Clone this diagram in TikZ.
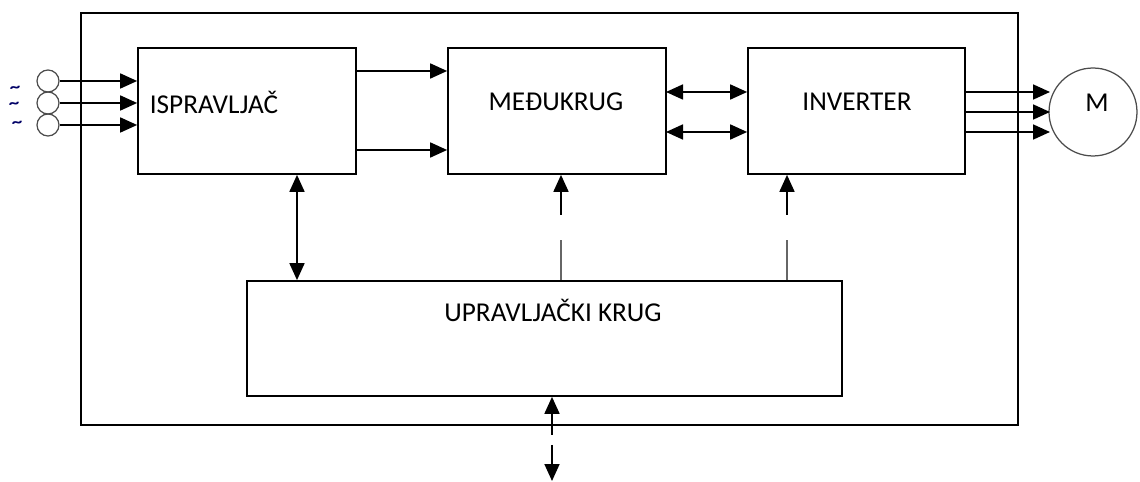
\documentclass[tikz,border=0pt]{standalone}
\usepackage{fontspec}
\setmainfont{Carlito}
\usetikzlibrary{arrows.meta,calc}

\tikzset{
  blok/.style={draw, line width=0.035cm, inner sep=0pt},
  natpis/.style={font=\fontsize{15.5}{18}\selectfont, inner sep=0pt},
  strelica/.style={line width=0.035cm, -{Triangle[length=0.34cm,width=0.3cm]}},
  dvostrelica/.style={line width=0.035cm, {Triangle[length=0.34cm,width=0.3cm]}-{Triangle[length=0.34cm,width=0.3cm]}},
  tanka/.style={line width=0.025cm, gray!80!black},
  ulaz/.style={circle, draw, line width=0.025cm, gray!60!black, minimum size=0.44cm, inner sep=0pt},
  valic/.style={font=\bfseries\fontsize{8}{9}\selectfont, text=blue!40!black, inner sep=0pt, xscale=1.5, yscale=1.2}
}

\begin{document}
\begin{tikzpicture}[x=0.02cm, y=-0.02cm]
  \useasboundingbox (0,0) rectangle (1140,482);

  % Okvir
  \node[blok, minimum width=18.74cm, minimum height=8.24cm] (okvir) at (549.5,219) {};

  % Blokovi
  \node[blok, minimum width=4.36cm, minimum height=2.52cm] (isp) at (247,111) {};
  \node[blok, minimum width=4.36cm, minimum height=2.52cm] (med) at (557,111) {};
  \node[blok, minimum width=4.34cm, minimum height=2.52cm] (inv) at (856.5,111) {};
  \node[blok, minimum width=11.9cm, minimum height=2.3cm] (upr) at (544.5,338.5) {};

  \node[natpis] (ispT) at (214,102) {ISPRAVLJAČ};
  \node[natpis] (medT) at (556,102) {MEĐUKRUG};
  \node[natpis] (invT) at (857,102) {INVERTER};
  \node[natpis] (uprT) at (553,310) {UPRAVLJAČKI KRUG};

  % Motor
  \node[circle, draw, line width=0.025cm, gray!60!black, minimum size=1.76cm, inner sep=0pt] (mot) at (1093,112) {};
  \node[natpis] (motT) at (1097,103) {M};

  % Ulazi
  \foreach \i/\y/\tx/\ty in {1/81/15/89, 2/103/14/105, 3/125/17/124} {
    \node[ulaz] (u\i) at (48,\y) {};
    \node[valic] (t\i) at (\tx,\ty) {\textasciitilde};
    \draw[strelica] (u\i.east) -- (u\i.east -| isp.west);
  }

  % Ispravljac -> medukrug
  \coordinate (a1) at (356,71);
  \coordinate (a2) at (356,150);
  \draw[strelica] (a1) -- (a1 -| med.west);
  \draw[strelica] (a2) -- (a2 -| med.west);

  % Medukrug <-> inverter
  \coordinate (b1) at (666,92);
  \coordinate (b2) at (666,132);
  \draw[dvostrelica] (b1) -- (b1 -| inv.west);
  \draw[dvostrelica] (b2) -- (b2 -| inv.west);

  % Inverter -> motor
  \foreach \i/\y in {1/92, 2/112, 3/132} {
    \coordinate (m\i) at (965,\y);
    \draw[strelica] (m\i) -- (1050,\y);
  }

  % Ispravljac <-> upravljacki krug
  \coordinate (c0) at (297,200);
  \draw[dvostrelica] (c0 |- isp.south) -- (c0 |- upr.north);

  % Upravljanje medukrugom i inverterom
  \foreach \x/\n in {561/med, 787/inv} {
    \coordinate (d1) at (\x,240);
    \coordinate (d2) at (\x,215);
    \draw[tanka] (d1 |- upr.north) -- (d1);
    \draw[strelica] (d2) -- (d2 |- \n.south);
  }

  % Vanjska veza
  \coordinate (e1) at (552,435);
  \coordinate (e2) at (552,445);
  \draw[strelica] (e1) -- (e1 |- upr.south);
  \draw[strelica] (e2) -- (552,481);
\end{tikzpicture}
\end{document}
